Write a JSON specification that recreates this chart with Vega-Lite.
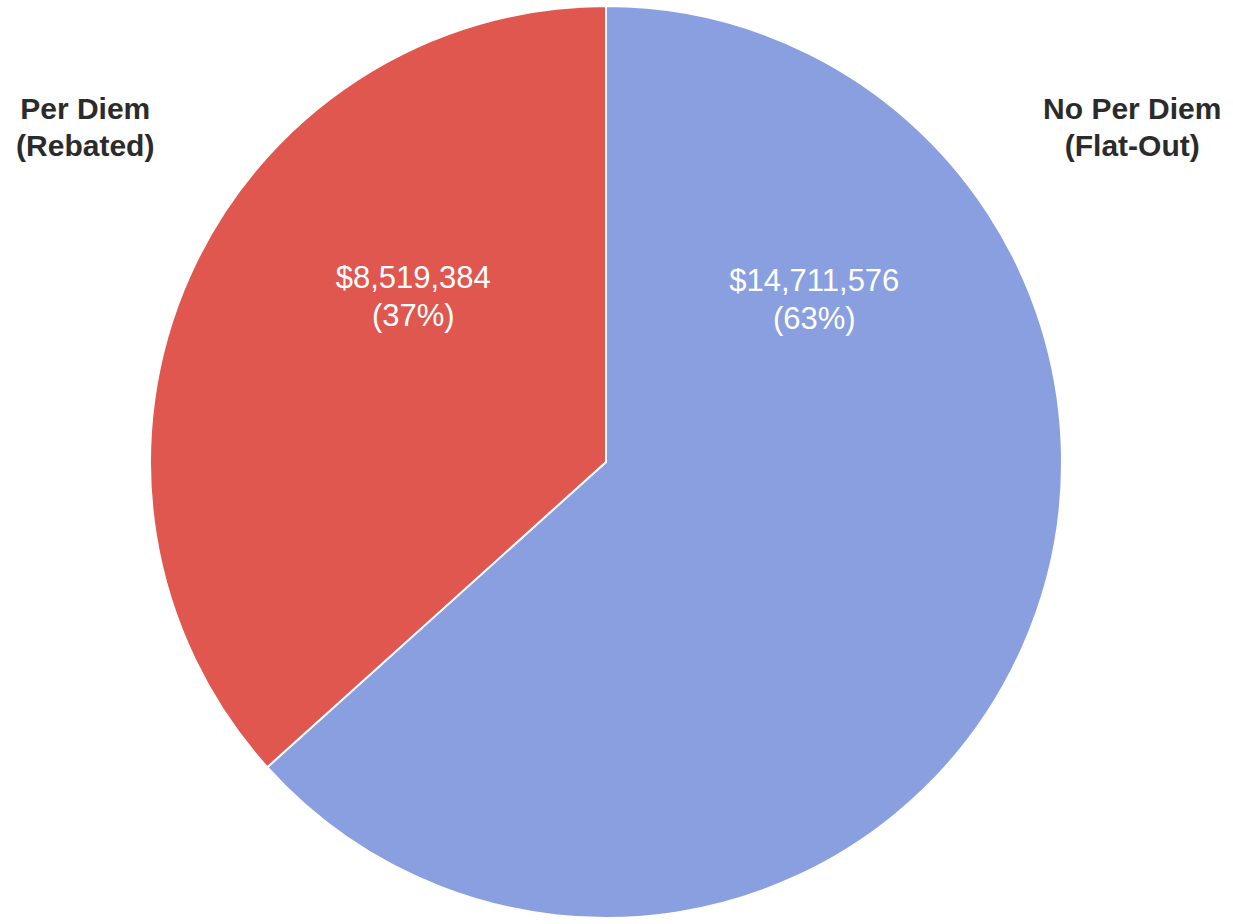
{
  "$schema": "https://vega.github.io/schema/vega-lite/v6.json",
  "autosize": "none",
  "width": 1212,
  "height": 924,
  "padding": {"left": 0, "right": 21, "top": 0, "bottom": 0},
  "background": "white",
  "view": {"stroke": null},
  "data": {
    "values": [
      {"category": "No Per Diem (Flat-Out)", "name": "No Per Diem\n(Flat-Out)", "amount": 14711576, "label": "$14,711,576\n(63%)"},
      {"category": "Per Diem (Rebated)", "name": "Per Diem\n(Rebated)", "amount": 8519384, "label": "$8,519,384\n(37%)"}
    ]
  },
  "encoding": {
    "theta": {"field": "amount", "type": "quantitative", "stack": true},
    "color": {
      "field": "category",
      "type": "nominal",
      "scale": {"domain": ["No Per Diem (Flat-Out)", "Per Diem (Rebated)"], "range": ["#8a9fe0", "#e0574f"]},
      "legend": null
    }
  },
  "layer": [
    {"mark": {"type": "arc", "outerRadius": 456, "stroke": "white", "strokeWidth": 2}},
    {
      "mark": {"type": "text", "radius": 211, "dy": -97, "lineBreak": "\n", "lineHeight": 38, "font": "Liberation Sans", "fontSize": 31, "align": "center", "baseline": "middle"},
      "encoding": {"text": {"condition": {"test": "datum.category == 'Per Diem (Rebated)'", "field": "label"}, "value": ""}, "color": {"value": "white"}}
    },
    {
      "mark": {"type": "text", "radius": 228, "dy": -273, "lineBreak": "\n", "lineHeight": 38, "font": "Liberation Sans", "fontSize": 31, "align": "center", "baseline": "middle"},
      "encoding": {"text": {"condition": {"test": "datum.category == 'No Per Diem (Flat-Out)'", "field": "label"}, "value": ""}, "color": {"value": "white"}}
    },
    {
      "mark": {"type": "text", "radius": 570, "dy": -120, "lineBreak": "\n", "lineHeight": 37, "font": "Liberation Sans", "fontSize": 30, "fontWeight": "bold", "align": "center", "baseline": "middle"},
      "encoding": {"text": {"condition": {"test": "datum.category == 'Per Diem (Rebated)'", "field": "name"}, "value": ""}, "color": {"value": "#2b2b2b"}}
    },
    {
      "mark": {"type": "text", "radius": 576, "dy": -586, "lineBreak": "\n", "lineHeight": 37, "font": "Liberation Sans", "fontSize": 30, "fontWeight": "bold", "align": "center", "baseline": "middle"},
      "encoding": {"text": {"condition": {"test": "datum.category == 'No Per Diem (Flat-Out)'", "field": "name"}, "value": ""}, "color": {"value": "#2b2b2b"}}
    }
  ]
}
